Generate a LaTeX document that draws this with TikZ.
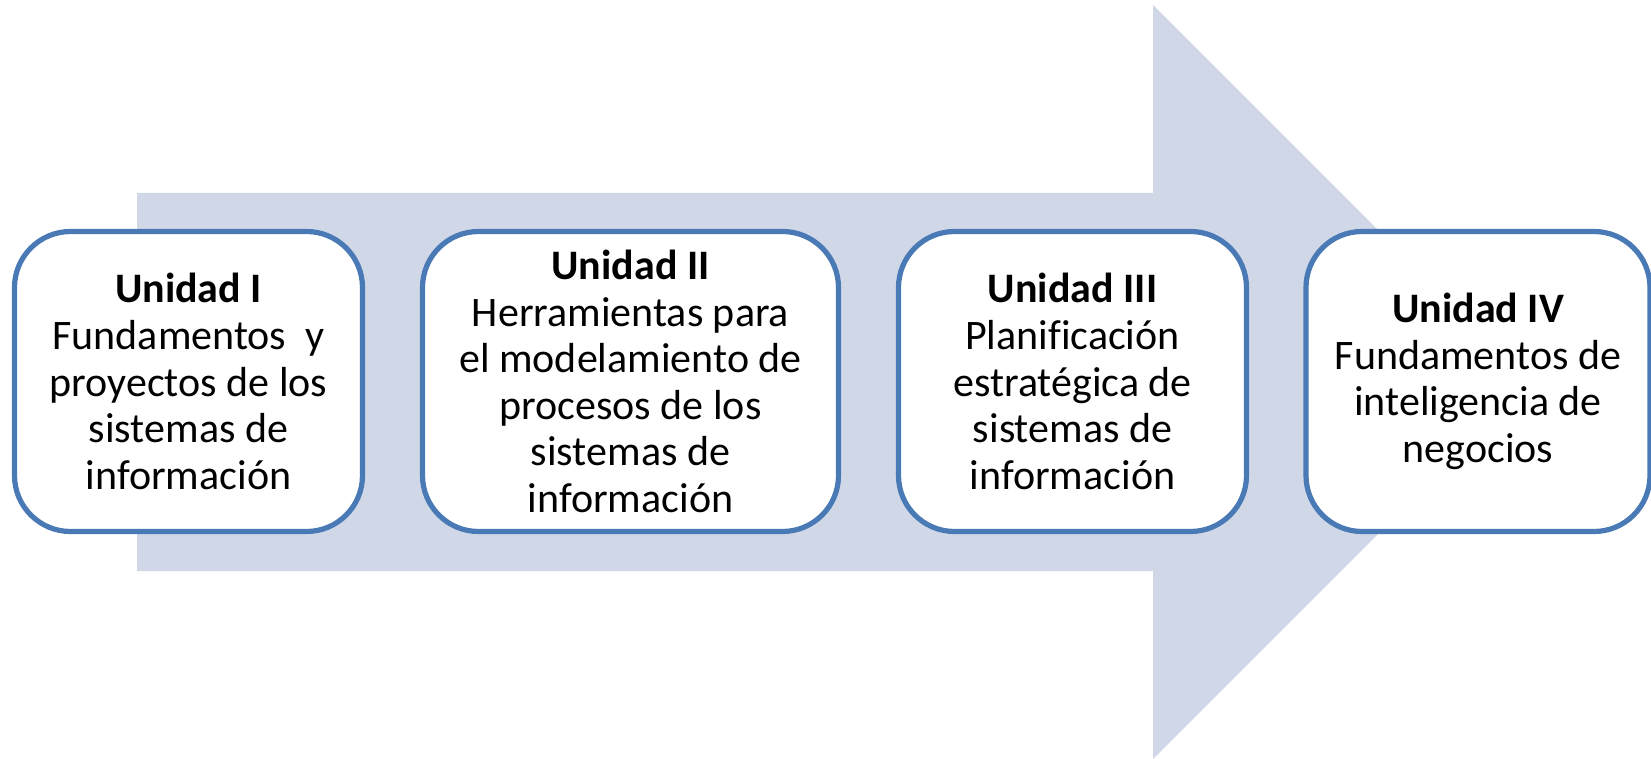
\documentclass[tikz,border=0pt]{standalone}
\usepackage{fontspec}
\setmainfont{Carlito}[Ligatures=NoCommon]
\definecolor{arrowfill}{HTML}{D0D8E8}
\definecolor{boxline}{HTML}{4A7AB5}
\begin{document}
\begin{tikzpicture}[x=0.5pt,y=-0.5pt,
  unitbox/.style={draw=boxline, line width=2.6pt, fill=white, rounded corners=28pt,
    minimum height=150pt, align=center, inner sep=0pt,
    font=\fontsize{21}{23.3}\selectfont}]
\useasboundingbox (0,0) rectangle (1651,759);
\fill[arrowfill] (137,193) -- (1153,193) -- (1153,5) -- (1530,382) -- (1153,759) -- (1153,571) -- (137,571) -- cycle;
\node[unitbox, minimum width=174pt] (u1) at (188.5,381.5)
  {\textbf{Unidad I}\\Fundamentos~ y\\proyectos de los\\sistemas de\\información};
\node[unitbox, minimum width=208pt] (u2) at (630.5,381.5)
  {\textbf{Unidad II}\\Herramientas para\\el modelamiento de\\procesos de los\\sistemas de\\información};
\node[unitbox, minimum width=174pt] (u3) at (1072.5,381.5)
  {\textbf{Unidad III}\\Planificación\\estratégica de\\sistemas de\\información};
\node[unitbox, minimum width=172pt] (u4) at (1478,381.5)
  {\textbf{Unidad IV}\\Fundamentos de\\inteligencia de\\negocios};
\end{tikzpicture}
\end{document}
